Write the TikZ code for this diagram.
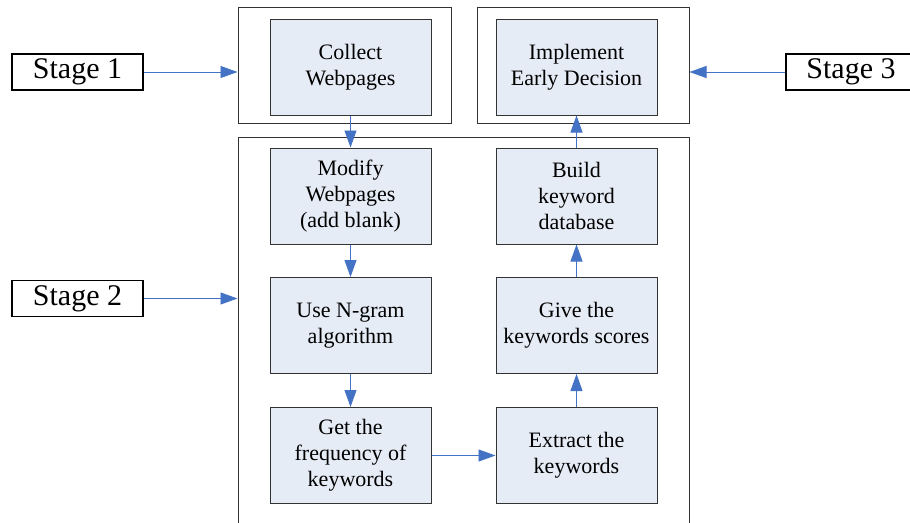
\documentclass[tikz,border=0pt]{standalone}
\usepackage{fontspec}
\setmainfont{Liberation Serif}
\usetikzlibrary{arrows.meta}

\definecolor{flowblue}{HTML}{4472C4}
\definecolor{stepfill}{HTML}{E6ECF6}

\begin{document}
\begin{tikzpicture}[x=1pt,y=-1pt,
        stepbox/.style={draw=black!80,fill=stepfill,line width=1pt,
            minimum width=161pt,minimum height=96pt,inner sep=2pt,
            align=center,font=\fontsize{22}{26}\selectfont},
        stagelabel/.style={draw=black,line width=1.4pt,minimum height=36pt,
            inner sep=0pt,font=\fontsize{30}{34}\selectfont},
        stageframe/.style={draw=black!80,line width=1pt,inner sep=0pt},
        flow/.style={flowblue,line width=0.9pt,
            -{Triangle[length=17pt,width=12pt]}}]
\clip (0,0) rectangle (910,522);

% stage labels
\node[stagelabel,minimum width=131pt] (stage1) at (77.5,72) {Stage 1};
\node[stagelabel,minimum width=131pt] (stage2) at (77.5,298.5) {Stage 2};
\node[stagelabel,minimum width=130pt] (stage3) at (851,72) {Stage 3};

% frames round the stages
\node[stageframe,minimum width=213pt,minimum height=116pt] (frame1) at (344.5,65) {};
\node[stageframe,minimum width=212pt,minimum height=116pt] (frame3) at (583,65) {};
\node[stageframe,minimum width=451pt,minimum height=403pt] (frame2) at (463.5,338.5) {};

% steps
\node[stepbox] (collect) at (350.5,67) {Collect\\Webpages};
\node[stepbox] (modify) at (350.5,196) {Modify\\Webpages\\(add blank)};
\node[stepbox] (ngram) at (350.5,325.5) {Use N-gram\\algorithm};
\node[stepbox] (freq) at (350.5,455.5) {Get the\\frequency of\\keywords};
\node[stepbox] (extract) at (576.5,455.5) {Extract the\\keywords};
\node[stepbox] (score) at (576.5,325.5) {Give the\\keywords scores};
\node[stepbox] (build) at (576.5,196) {Build\\keyword\\database};
\node[stepbox] (decide) at (576.5,67) {Implement\\Early Decision};

% arrows
\draw[flow] (stage1.east) -- (stage1.east -| frame1.west);
\draw[flow] (stage2.east) -- (stage2.east -| frame2.west);
\draw[flow] (stage3.west) -- (stage3.west -| frame3.east);

\draw[flow] (collect) -- (modify);
\draw[flow] (modify) -- (ngram);
\draw[flow] (ngram) -- (freq);
\draw[flow] (freq) -- (extract);
\draw[flow] (extract) -- (score);
\draw[flow] (score) -- (build);
\draw[flow] (build) -- (decide);

\end{tikzpicture}
\end{document}
